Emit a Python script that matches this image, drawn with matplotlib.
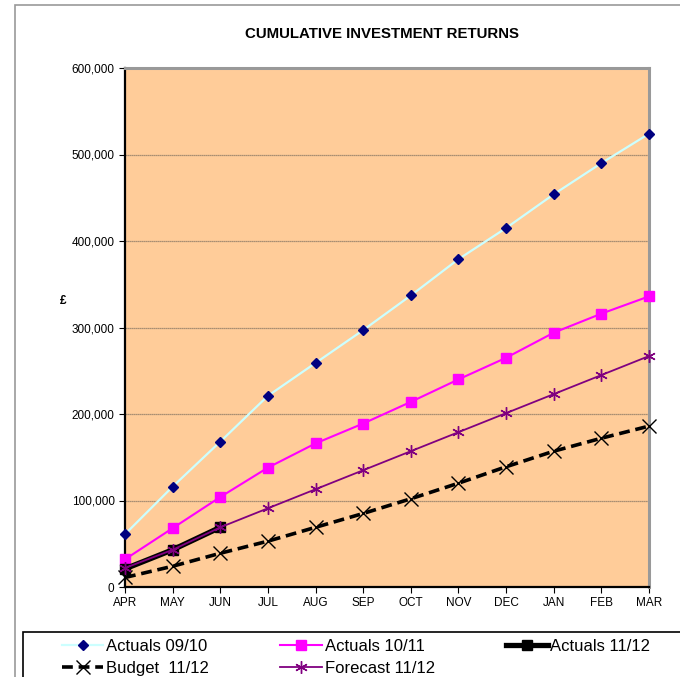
import matplotlib
matplotlib.use("Agg")
import matplotlib.pyplot as plt
from matplotlib.patches import Rectangle
from matplotlib.ticker import FuncFormatter, MultipleLocator

plt.rcParams['font.family'] = ['Liberation Sans', 'DejaVu Sans']

months = ["APR", "MAY", "JUN", "JUL", "AUG", "SEP", "OCT", "NOV", "DEC", "JAN", "FEB", "MAR"]
actuals_0910 = [61000, 116000, 168000, 221000, 259000, 297000, 337000, 379000, 415000, 454000, 490000, 524000]
actuals_1011 = [32000, 68000, 104000, 138000, 166000, 189000, 214000, 240000, 265000, 294000, 316000, 336000]
actuals_1112 = [21000, 43000, 69000]
budget_1112 = [11000, 24000, 39000, 53000, 69000, 85000, 102000, 120000, 139000, 157000, 172000, 186000]
forecast_1112 = [22000, 43000, 69000, 91000, 113000, 135000, 157000, 179000, 201000, 223000, 245000, 267000]

W, H = 680, 677
fig = plt.figure(figsize=(W / 100, H / 100), dpi=100)

# outer chart frame (left and top edges visible)
fig.patches.append(Rectangle((15 / W, -0.05), 1.2, 1 - 5 / H + 0.05, transform=fig.transFigure,
                             fill=False, edgecolor="#999999", linewidth=1.2))

ax = fig.add_axes([125 / W, 1 - 587 / H, (649 - 125) / W, (587 - 68) / H])
ax.set_facecolor("#FFCC99")

x = list(range(len(months)))

ax.plot(x, actuals_0910, color="#CCFFFF", linewidth=1.6, marker="D", markersize=5,
        markerfacecolor="#000080", markeredgecolor="#000080", clip_on=False, zorder=3,
        label="Actuals 09/10")
ax.plot(x, actuals_1011, color="#FF00FF", linewidth=1.5, marker="s", markersize=7,
        markerfacecolor="#FF00FF", markeredgecolor="#FF00FF", clip_on=False, zorder=3,
        label="Actuals 10/11")
ax.plot(x[:len(actuals_1112)], actuals_1112, color="black", linewidth=3.8, marker="s", markersize=7,
        markerfacecolor="black", markeredgecolor="black", clip_on=False, zorder=3,
        label="Actuals 11/12")
ax.plot(x, budget_1112, color="black", linewidth=2.6, linestyle=(0, (3, 1.6)), marker="x", markersize=10,
        markeredgewidth=1.0, clip_on=False, zorder=4, label="Budget  11/12")
ax.plot(x, forecast_1112, color="#800080", linewidth=1.3, marker=(6, 2, 0), markersize=9,
        markeredgewidth=1.0, clip_on=False, zorder=5, label="Forecast 11/12")

ax.set_xlim(0, len(months) - 1)
ax.set_ylim(0, 600000)
ax.set_xticks(x)
ax.set_xticklabels(months)
ax.yaxis.set_major_locator(MultipleLocator(100000))
ax.yaxis.set_major_formatter(FuncFormatter(lambda v, p: f"{int(v):,}"))

ax.grid(axis="y", color="#8C7A66", linewidth=0.9, linestyle=(0, (1, 0.6)))
ax.set_axisbelow(True)

for side in ("left", "bottom"):
    ax.spines[side].set_color("black")
    ax.spines[side].set_linewidth(1.6)
for side in ("top", "right"):
    ax.spines[side].set_color("#999999")
    ax.spines[side].set_linewidth(2.2)

ax.tick_params(axis="both", direction="out", length=4, width=0.8, labelsize=8.5, colors="black")
ax.tick_params(axis="x", pad=3)

ax.set_ylabel("£", rotation=0, fontsize=8.5, fontweight="bold", labelpad=4)
ax.yaxis.set_label_coords(-0.118, 0.54)

fig.text(382 / W, 1 - 34 / H, "CUMULATIVE INVESTMENT RETURNS", ha="center", va="center",
         fontsize=10.8, fontweight="bold")

# legend box running off the right edge
fig.patches.append(Rectangle((23 / W, 1 - 680 / H), 1.2, 48 / H, transform=fig.transFigure,
                             fill=False, edgecolor="black", linewidth=1.2))

handles, labels = ax.get_legend_handles_labels()
order = [0, 3, 1, 4, 2]
fig.legend([handles[i] for i in order], [labels[i] for i in order],
           ncol=3, loc="upper left", bbox_to_anchor=(50 / W, 1 - 627 / H),
           frameon=False, fontsize=12, handlelength=2.5, handletextpad=0.15,
           columnspacing=4.3, labelspacing=0.42, borderpad=0.2)

fig.savefig("out.png", dpi=100)
